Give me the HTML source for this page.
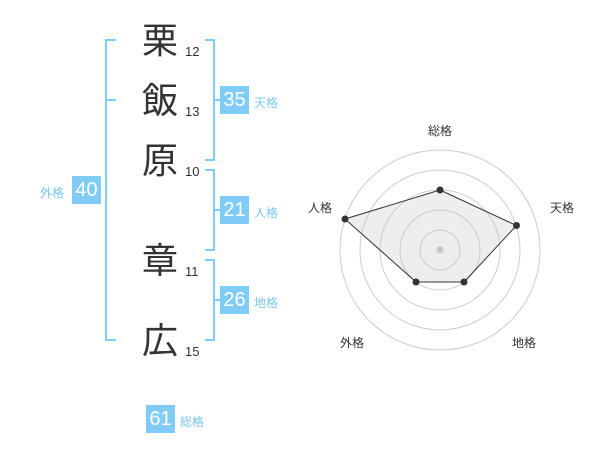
<!DOCTYPE html>
<html><head><meta charset="utf-8"><style>
body{margin:0;width:600px;height:470px;background:#fff;position:relative;overflow:hidden;font-family:"Liberation Sans","Noto Sans CJK JP",sans-serif}
.k{position:absolute;font-size:36px;color:#333;line-height:40px;width:44px;text-align:center}
.n{position:absolute;font-size:13px;color:#333}
.b{position:absolute;width:29px;height:28px;background:#80ccf6;color:#fff;font-size:20px;line-height:28px;text-align:center}
.l{position:absolute;font-size:12px;color:#7ac6f0}
</style></head><body>
<svg width="600" height="470" style="position:absolute;left:0;top:0">
<g stroke="#80ccf6" stroke-width="2" fill="none">
<path d="M116 40H106V340H116M106 100H116"/>
<path d="M205 40H214V160H205M214 100H222"/>
<path d="M205 170H214V250H205M214 210H222"/>
<path d="M205 260H214V340H205M214 300H222"/>
</g>
<g fill="none" stroke="#ccc" stroke-width="1">
<circle cx="440" cy="250" r="20"/><circle cx="440" cy="250" r="40"/><circle cx="440" cy="250" r="60"/><circle cx="440" cy="250" r="80"/><circle cx="440" cy="250" r="100"/>
</g>
<circle cx="440" cy="250" r="3.5" fill="#ccc"/>
<polygon points="440,190 516.5,225.5 464,282 416,282 345,219" fill="rgba(200,200,200,0.3)" stroke="#333" stroke-width="1"/>
<g fill="#333"><circle cx="440" cy="190" r="3.5"/><circle cx="516.5" cy="225.5" r="3.5"/><circle cx="464" cy="282" r="3.5"/><circle cx="416" cy="282" r="3.5"/><circle cx="345" cy="219" r="3.5"/></g>
<g font-size="12" fill="#333" font-family="Liberation Sans,Noto Sans CJK JP,sans-serif" text-anchor="middle">
<text x="440" y="135">総格</text><text x="562" y="212">天格</text><text x="524" y="347">地格</text><text x="352" y="347">外格</text><text x="320" y="212">人格</text>
</g>
</svg>
<div class="k" style="left:138px;top:21px">栗</div><div class="n" style="left:185px;top:44px">12</div>
<div class="k" style="left:138px;top:81px">飯</div><div class="n" style="left:185px;top:104px">13</div>
<div class="k" style="left:138px;top:141px">原</div><div class="n" style="left:185px;top:164px">10</div>
<div class="k" style="left:138px;top:241px">章</div><div class="n" style="left:185px;top:264px">11</div>
<div class="k" style="left:138px;top:321px">広</div><div class="n" style="left:185px;top:344px">15</div>
<div class="b" style="left:220px;top:86px">35</div><div class="l" style="left:254px;top:94px">天格</div>
<div class="b" style="left:220px;top:196px">21</div><div class="l" style="left:254px;top:204px">人格</div>
<div class="b" style="left:220px;top:286px">26</div><div class="l" style="left:254px;top:294px">地格</div>
<div class="b" style="left:72px;top:176px">40</div><div class="l" style="left:40px;top:184px">外格</div>
<div class="b" style="left:146px;top:405px">61</div><div class="l" style="left:180px;top:413px">総格</div>
</body></html>
